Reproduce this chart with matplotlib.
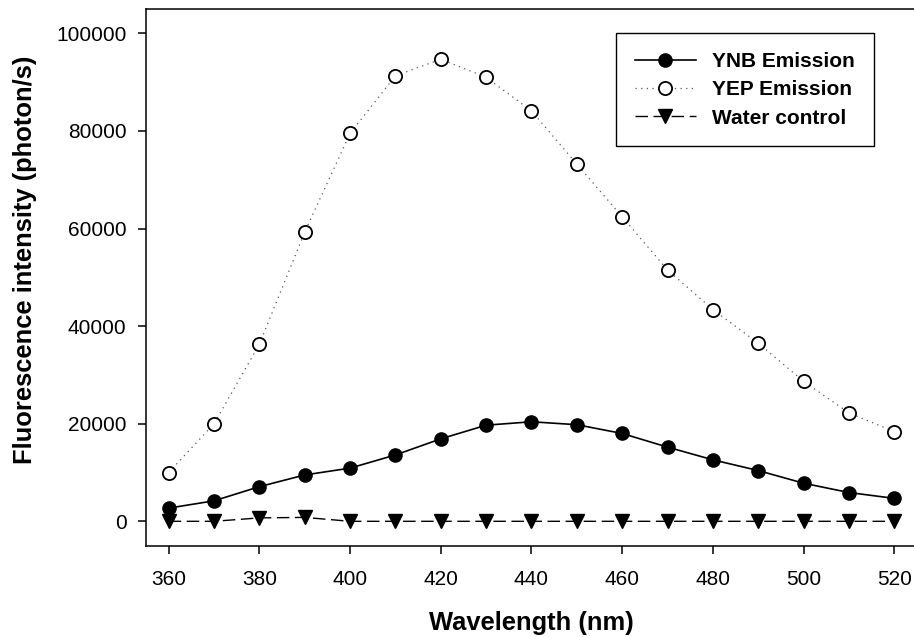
import numpy as np
import matplotlib
matplotlib.use("Agg")
import matplotlib.pyplot as plt

plt.rcParams['font.family'] = ['Liberation Sans', 'DejaVu Sans']

wavelength = [360, 370, 380, 390, 400, 410, 420, 430, 440, 450, 460, 470, 480, 490, 500, 510, 520]
ynb = [2700, 4200, 7100, 9500, 10900, 13600, 16900, 19700, 20400, 19800, 18000, 15200, 12600, 10400, 7800, 5900, 4700]
yep = [10000, 20000, 36300, 59300, 79500, 91300, 94700, 91000, 84100, 73200, 62400, 51500, 43400, 36500, 28700, 22200, 18400]
water = [0, 0, 700, 800, 0, 0, 0, 0, 0, 0, 0, 0, 0, 0, 0, 0, 0]

fig = plt.figure(figsize=(9.14, 6.37), dpi=100)
ax = fig.add_axes([146/914, 1-545.7/637, (917-146)/914, (545.7-9)/637])

ax.plot(wavelength, ynb, '-', color='black', lw=1.2, marker='o', ms=9.5,
        mfc='black', mec='black', label='YNB Emission', zorder=3)
ax.plot(wavelength, yep, color='#555555', lw=0.9, ls=(0, (1, 3.5)), marker='o', ms=9.5,
        mfc='white', mec='black', mew=1.3, label='YEP Emission', zorder=3)
ax.plot(wavelength, water, color='black', lw=1.0, ls=(0, (9, 4)), marker='v', ms=9.5,
        mfc='black', mec='black', label='Water control', zorder=3)

ax.set_xlim(355, 525)
ax.set_ylim(-5000, 105000)
ax.set_xticks(np.arange(360, 521, 20))
ax.set_yticks(np.arange(0, 100001, 20000))

for s in ax.spines.values():
    s.set_linewidth(1.1)
ax.tick_params(direction='out', length=6, width=1.1, labelsize=15)
ax.tick_params(axis='x', pad=11.5)
ax.tick_params(axis='y', pad=8)

ax.set_xlabel('Wavelength (nm)', fontsize=18.4, fontweight='bold', labelpad=16)
ax.set_ylabel('Fluorescence intensity (photon/s)', fontsize=18.4, fontweight='bold', labelpad=14)
ax.yaxis.label.set_y(0.532)

leg = ax.legend(loc='upper right', bbox_to_anchor=(0.944, 0.955), borderaxespad=0,
                fancybox=False, edgecolor='black', framealpha=1, handlelength=2.9,
                handletextpad=0.8, prop={'size': 15, 'weight': 'bold'},
                borderpad=0.9, labelspacing=0.45)
leg.get_frame().set_linewidth(1.0)

fig.savefig('out.png', dpi=100)
